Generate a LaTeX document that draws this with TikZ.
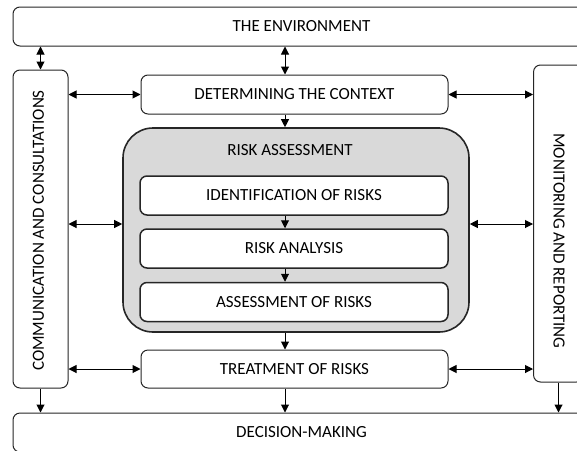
\documentclass[tikz,border=0pt]{standalone}
\usepackage{fontspec}
\setmainfont{Carlito}
\usetikzlibrary{arrows.meta,positioning,calc}
\tikzset{
  frame/.style={draw=black!85, line width=1pt, rounded corners=7pt, fill=white, font=\fontsize{17}{20}\selectfont, inner sep=0pt},
  inner/.style={frame, line width=1.5pt, minimum width=308pt, minimum height=39pt},
  block/.style={draw=black!85, line width=1.6pt, fill=black!15, rounded corners=30pt},
  link/.style={{Triangle[length=8pt,width=8pt]}-{Triangle[length=8pt,width=8pt]}, line width=1pt},
  flow/.style={-{Triangle[length=8pt,width=8pt]}, line width=1pt},
  note/.style={font=\fontsize{17}{20}\selectfont}
}

\begin{document}
\begin{tikzpicture}[x=1pt,y=-1pt]
  \useasboundingbox (0,0) rectangle (577,450);
  \clip (0,0) rectangle (577,450);
  \coordinate (spine) at (285,224);
  % outer frame
  \node[frame, minimum width=577pt, minimum height=39pt] (env) at (301.5,26.5) {THE ENVIRONMENT};
  \node[frame, minimum width=577pt, minimum height=39pt] (dec) at (301.5,432.5) {DECISION-MAKING};
  \node[frame, minimum width=55pt, minimum height=318pt] (comm) at (40.5,229) {};
  \node[note, rotate=90] (commtxt) at (38.5,230.5) {COMMUNICATION AND CONSULTATIONS};
  \node[frame, minimum width=50pt, minimum height=317pt] (mon) at (558.5,223.5) {};
  \node[note, rotate=-90] (montxt) at (559,241) {MONITORING AND REPORTING};
  % process
  \node[frame, minimum width=307pt, minimum height=39pt] (det) at (294.5,94.5) {DETERMINING THE CONTEXT};
  \node[block, minimum width=346pt, minimum height=204pt] (risk) at (296,230) {};
  \node[note] (risktxt) at (290,150) {RISK ASSESSMENT};
  \node[inner] (ident) at (294,195.5) {IDENTIFICATION OF RISKS};
  \node[inner] (anal) at (294,248.5) {RISK ANALYSIS};
  \node[inner] (asse) at (294,302) {ASSESSMENT OF RISKS};
  \node[frame, minimum width=307pt, minimum height=38pt] (treat) at (294.5,369) {TREATMENT OF RISKS};

  \draw[link] (env.south -| comm) -- (comm.north);
  \draw[link] (env.south -| spine) -- (det.north -| spine);
  \draw[link] (comm.east |- det) -- (det.west);
  \draw[link] (det.east) -- (mon.west |- det);
  \draw[link] (comm.east |- spine) -- (risk.west |- spine);
  \draw[link] (risk.east |- spine) -- (mon.west |- spine);
  \draw[link] (comm.east |- treat) -- (treat.west);
  \draw[link] (treat.east) -- (mon.west |- treat);
  \draw[flow] (det.south -| spine) -- (risk.north -| spine);
  \draw[flow] (ident.south -| spine) -- (anal.north -| spine);
  \draw[flow] (anal.south -| spine) -- (asse.north -| spine);
  \draw[flow] (risk.south -| spine) -- (treat.north -| spine);
  \draw[flow] (treat.south -| spine) -- (dec.north -| spine);
  \draw[flow] (comm.south) -- (dec.north -| comm);
  \draw[flow] (mon.south) -- (dec.north -| mon);
\end{tikzpicture}
\end{document}
